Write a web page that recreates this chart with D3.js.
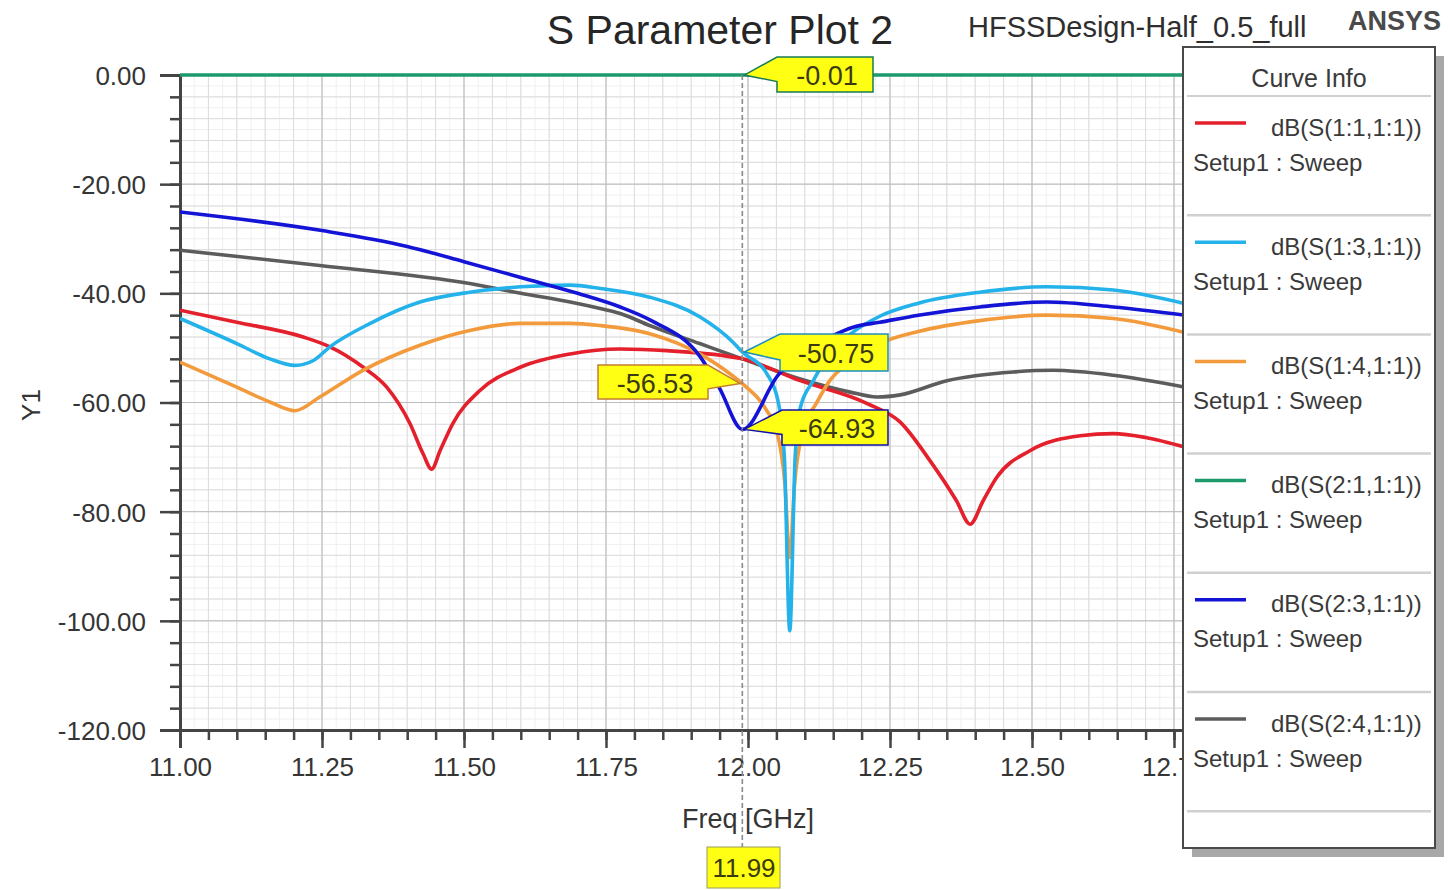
<!DOCTYPE html>
<html>
<head>
<meta charset="utf-8">
<script src="https://cdn.jsdelivr.net/npm/d3@7"></script>
<style>
  html, body { margin: 0; padding: 0; background: #fff; }
  svg { display: block; font-family: "Liberation Sans", Arial, sans-serif; }
</style>
</head>
<body>
<svg id="chart" width="1450" height="890"></svg>
<script>
// ---- Data: S-parameter sweeps (frequency in GHz, magnitude in dB) ----
const s11Freq = [11.00, 11.10, 11.217, 11.264, 11.322, 11.364, 11.405, 11.428, 11.443, 11.458, 11.48, 11.528, 11.60, 11.687, 11.775, 11.857, 11.99, 12.092, 12.21, 12.268, 12.32, 12.367, 12.391, 12.414, 12.438, 12.497, 12.585, 12.643, 12.70, 12.77];
const s11dB   = [-43.1, -45.3, -48.0, -49.8, -53.5, -57.2, -63.9, -69.4, -72.2, -68.8, -63.9, -57.8, -53.5, -51.1, -50.2, -50.5, -52.0, -56.0, -60.2, -63.6, -70.6, -78.0, -82.3, -78.0, -73.7, -68.8, -66.1, -65.7, -66.4, -68.2];

const s13Freq = [11.00, 11.10, 11.158, 11.2025, 11.235, 11.264, 11.335, 11.4225, 11.51, 11.60, 11.687, 11.74, 11.827, 11.915, 11.974, 11.99, 12.033, 12.053, 12.064, 12.0735, 12.083, 12.092, 12.115, 12.144, 12.18, 12.232, 12.30, 12.408, 12.526, 12.643, 12.77];
const s13dB   = [-44.6, -49.2, -52.0, -53.2, -52.3, -49.8, -45.5, -41.6, -39.8, -38.8, -38.5, -39.1, -40.7, -44.3, -49.0, -50.75, -54.7, -59.8, -70.0, -101.8, -70.0, -61.0, -56.0, -51.0, -47.5, -44.2, -41.8, -39.8, -38.8, -39.4, -41.9];

const s14Freq = [11.00, 11.10, 11.158, 11.2025, 11.246, 11.322, 11.4225, 11.51, 11.60, 11.687, 11.74, 11.827, 11.915, 11.974, 11.99, 12.033, 12.05, 12.065, 12.0735, 12.082, 12.097, 12.12, 12.144, 12.18, 12.232, 12.30, 12.408, 12.526, 12.643, 12.77];
const s14dB   = [-52.6, -57.2, -59.9, -61.5, -59.0, -54.1, -49.5, -46.8, -45.5, -45.5, -45.9, -47.4, -51.1, -55.2, -56.53, -61.5, -65.0, -75.0, -88.4, -75.0, -65.0, -60.2, -56.0, -52.5, -49.2, -47.0, -45.0, -44.0, -44.6, -47.2];

const s21Freq = [11.00, 11.50, 11.99, 12.50, 12.77];
const s21dB   = [-0.01, -0.01, -0.01, -0.01, -0.01];

const s23Freq = [11.00, 11.25, 11.40, 11.50, 11.60, 11.70, 11.775, 11.83, 11.915, 11.95, 11.99, 12.053, 12.092, 12.144, 12.185, 12.232, 12.30, 12.408, 12.526, 12.643, 12.77];
const s23dB   = [-25.1, -28.5, -31.4, -34.2, -37.1, -40.0, -42.5, -45.0, -51.5, -57.4, -64.93, -55.0, -51.0, -48.0, -46.2, -45.3, -44.0, -42.5, -41.6, -42.5, -44.0];

const s24Freq = [11.00, 11.246, 11.51, 11.60, 11.687, 11.74, 11.775, 11.827, 11.915, 11.99, 12.092, 12.18, 12.227, 12.268, 12.35, 12.467, 12.537, 12.643, 12.77];
const s24dB   = [-32.1, -34.9, -38.2, -40.0, -41.6, -42.8, -43.7, -45.9, -49.2, -52.0, -55.7, -58.1, -59.0, -58.6, -56.0, -54.4, -54.1, -55.0, -57.2];

const traceNames = ["dB(S(1:1,1:1))", "dB(S(1:3,1:1))", "dB(S(1:4,1:1))", "dB(S(2:1,1:1))", "dB(S(2:3,1:1))", "dB(S(2:4,1:1))"];
const sweepName = "Setup1 : Sweep";

const xTickValues = [11.00, 11.25, 11.50, 11.75, 12.00, 12.25, 12.50, 12.75];
const yTickValues = [0, -20, -40, -60, -80, -100, -120];

const markerFreq = 11.99;
// ---- End of data ----

const colors = ["#e3202c", "#24b2ea", "#f39b3c", "#1d9a6c", "#1414d6", "#5c5c5c"];
const series = [
  { f: s11Freq, v: s11dB },
  { f: s13Freq, v: s13dB },
  { f: s14Freq, v: s14dB },
  { f: s21Freq, v: s21dB },
  { f: s23Freq, v: s23dB },
  { f: s24Freq, v: s24dB }
].map((s, i) => ({ name: traceNames[i], color: colors[i], pts: s.f.map((f, j) => [f, s.v[j]]) }));

const svg = d3.select("#chart");
const W = 1450, H = 890;
const plot = { left: 180, top: 75, right: 1316, bottom: 730 };

const x = d3.scaleLinear().domain([11, 13]).range([plot.left, plot.right]);
const y = d3.scaleLinear().domain([0, -120]).range([plot.top, plot.bottom]);

// plain hyphen for negative numbers, two decimals
const fmt2 = v => d3.format(".2f")(v).replace("\u2212", "-");

svg.append("rect").attr("width", W).attr("height", H).attr("fill", "#fff");

// Grid: fine, minor, major
const gGrid = svg.append("g");
const fineX = d3.range(11, 13.0001, 0.025);
const minorX = d3.range(11, 13.0001, 0.05);
const fineY = d3.range(0, -120.001, -2);
const minorY = d3.range(0, -120.001, -4);
function vlines(vals, color) {
  gGrid.append("g").selectAll("line").data(vals).join("line")
    .attr("x1", d => x(d)).attr("x2", d => x(d))
    .attr("y1", plot.top).attr("y2", plot.bottom)
    .attr("stroke", color).attr("stroke-width", 1);
}
function hlines(vals, color) {
  gGrid.append("g").selectAll("line").data(vals).join("line")
    .attr("x1", plot.left).attr("x2", plot.right)
    .attr("y1", d => y(d)).attr("y2", d => y(d))
    .attr("stroke", color).attr("stroke-width", 1);
}
vlines(fineX, "#f0f0f0");
hlines(fineY, "#f0f0f0");
vlines(minorX, "#dcdcdc");
hlines(minorY, "#dcdcdc");
vlines(xTickValues, "#bdbdbd");
hlines(yTickValues, "#bdbdbd");

// Axes
const axisColor = "#444";
const labelColor = "#353535";
const yMinor = svg.append("g").attr("transform", `translate(${plot.left},0)`)
  .call(d3.axisLeft(y).tickValues(minorY).tickSize(10).tickFormat(""));
const yAxis = svg.append("g").attr("transform", `translate(${plot.left},0)`)
  .call(d3.axisLeft(y).tickValues(yTickValues).tickSize(20).tickPadding(14).tickFormat(fmt2));
const xMinor = svg.append("g").attr("transform", `translate(0,${plot.bottom})`)
  .call(d3.axisBottom(x).tickValues(minorX).tickSize(10).tickFormat(""));
const xAxis = svg.append("g").attr("transform", `translate(0,${plot.bottom})`)
  .call(d3.axisBottom(x).tickValues(xTickValues).tickSize(18).tickPadding(10).tickFormat(fmt2));
[yMinor, yAxis, xMinor, xAxis].forEach(g => {
  g.select(".domain").attr("stroke", axisColor).attr("stroke-width", 3);
  g.selectAll(".tick line").attr("stroke", axisColor).attr("stroke-width", 2.5);
  g.selectAll(".tick text").attr("fill", labelColor).attr("font-size", 26)
    .attr("font-family", "'Liberation Sans', Arial, sans-serif");
});
yAxis.selectAll(".tick text").attr("dy", "0.36em");

svg.append("text").attr("x", 748).attr("y", 828).attr("text-anchor", "middle")
  .attr("font-size", 27).attr("fill", labelColor).text("Freq [GHz]");
svg.append("text").attr("transform", "translate(40,405) rotate(-90)").attr("text-anchor", "middle")
  .attr("font-size", 26).attr("fill", labelColor).text("Y1");

// Curves
svg.append("clipPath").attr("id", "plotClip").append("rect")
  .attr("x", plot.left).attr("y", plot.top - 6)
  .attr("width", plot.right - plot.left).attr("height", plot.bottom - plot.top + 12);
const line = d3.line().x(d => x(d[0])).y(d => y(d[1])).curve(d3.curveMonotoneX);
const gCurves = svg.append("g").attr("clip-path", "url(#plotClip)");
// draw order: green first, then others on top
[3, 5, 0, 2, 1, 4].forEach(i => {
  gCurves.append("path").datum(series[i].pts)
    .attr("d", line).attr("fill", "none")
    .attr("stroke", series[i].color).attr("stroke-width", 3.6)
    .attr("stroke-linejoin", "round");
});

// Marker line at the selected frequency
const mx = x(markerFreq);
svg.append("line").attr("x1", mx).attr("x2", mx).attr("y1", plot.top).attr("y2", 848)
  .attr("stroke", "#8a8a8a").attr("stroke-width", 1.6).attr("stroke-dasharray", "5,3");

// Marker value boxes
function valueAt(s, f) {
  const p = s.pts.find(d => Math.abs(d[0] - f) < 1e-9);
  return p[1];
}
const markerLayout = [
  { idx: 3, side: "right", bx: 777, by: 57, w: 96, h: 35 },
  { idx: 1, side: "right", bx: 780, by: 334, w: 108, h: 37 },
  { idx: 2, side: "left",  bx: 598, by: 365, w: 110, h: 34 },
  { idx: 4, side: "right", bx: 782, by: 410, w: 106, h: 35 }
];
const gMarks = svg.append("g");
markerLayout.forEach(m => {
  const s = series[m.idx];
  const val = valueAt(s, markerFreq);
  const tip = [mx + 2, y(val)];
  let poly;
  if (m.side === "right") {
    poly = [tip, [m.bx, m.by], [m.bx + m.w, m.by], [m.bx + m.w, m.by + m.h], [m.bx, m.by + m.h], [m.bx, m.by + m.h * 0.7]];
  } else {
    poly = [[mx - 2, tip[1]], [m.bx + m.w, m.by + m.h * 0.7], [m.bx + m.w, m.by + m.h], [m.bx, m.by + m.h], [m.bx, m.by], [m.bx + m.w, m.by]];
  }
  gMarks.append("polygon").attr("points", poly.map(p => p.join(",")).join(" "))
    .attr("fill", "#ffff14").attr("stroke", d3.color(s.color).darker(0.6)).attr("stroke-width", 1.5);
  gMarks.append("text").attr("x", m.bx + m.w / 2 + 2).attr("y", m.by + m.h / 2 + 1)
    .attr("dy", "0.36em").attr("text-anchor", "middle").attr("font-size", 27)
    .attr("fill", "#3b3b12").text(fmt2(val));
});
// Frequency readout below the axis
gMarks.append("rect").attr("x", 707).attr("y", 847).attr("width", 73).attr("height", 41)
  .attr("fill", "#ffff14").attr("stroke", "#9a9a60").attr("stroke-width", 1);
gMarks.append("text").attr("x", 744).attr("y", 868).attr("dy", "0.36em").attr("text-anchor", "middle")
  .attr("font-size", 26).attr("fill", "#3b3b12").text(fmt2(markerFreq));

// Titles
svg.append("text").attr("x", 720).attr("y", 44).attr("text-anchor", "middle")
  .attr("font-size", 41).attr("fill", "#262626").text("S Parameter Plot 2");
svg.append("text").attr("x", 968).attr("y", 37)
  .attr("font-size", 29).attr("fill", "#2e2e2e").text("HFSSDesign-Half_0.5_full");
svg.append("text").attr("x", 1441).attr("y", 30).attr("text-anchor", "end")
  .attr("font-size", 27).attr("font-weight", "bold").attr("fill", "#4a4a4a").text("ANSYS");

// Legend ("Curve Info")
const lg = { x: 1183, y: 47, w: 252, h: 801 };
svg.append("rect").attr("x", lg.x + 9).attr("y", lg.y + 9).attr("width", lg.w).attr("height", lg.h)
  .attr("fill", "#a8a8a8");
svg.append("rect").attr("x", lg.x).attr("y", lg.y).attr("width", lg.w).attr("height", lg.h)
  .attr("fill", "#fff").attr("stroke", "#4a4a4a").attr("stroke-width", 2);
svg.append("text").attr("x", lg.x + lg.w / 2).attr("y", 78).attr("dy", "0.36em").attr("text-anchor", "middle")
  .attr("font-size", 25).attr("fill", "#3a3a3a").text("Curve Info");
const rowTop = 96, rowH = 119.2;
svg.append("line").attr("x1", lg.x + 4).attr("x2", lg.x + lg.w - 4).attr("y1", rowTop).attr("y2", rowTop)
  .attr("stroke", "#d0d0d0").attr("stroke-width", 2);
series.forEach((s, i) => {
  const top = rowTop + i * rowH;
  const g = svg.append("g");
  g.append("line").attr("x1", 1195).attr("x2", 1246).attr("y1", top + 27).attr("y2", top + 27)
    .attr("stroke", s.color).attr("stroke-width", 3.5);
  g.append("text").attr("x", 1271).attr("y", top + 31).attr("dy", "0.36em")
    .attr("font-size", 24).attr("fill", "#3a3a3a").text(s.name);
  g.append("text").attr("x", 1193).attr("y", top + 66).attr("dy", "0.36em")
    .attr("font-size", 24).attr("fill", "#3a3a3a").text(sweepName);
  g.append("line").attr("x1", lg.x + 4).attr("x2", lg.x + lg.w - 4).attr("y1", top + rowH).attr("y2", top + rowH)
    .attr("stroke", "#d0d0d0").attr("stroke-width", 2.5);
});
</script>
</body>
</html>
